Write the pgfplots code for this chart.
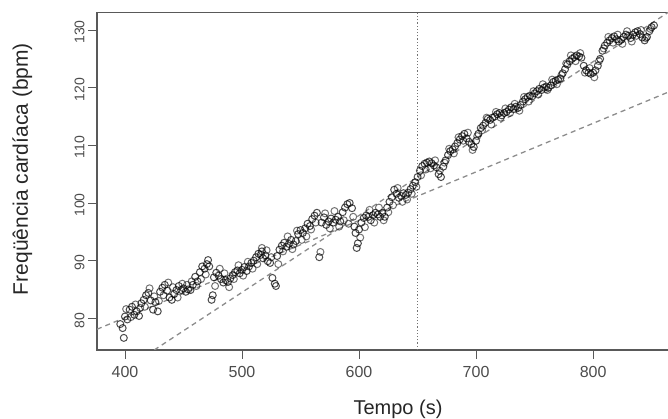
\documentclass[border=0pt]{standalone}
\usepackage{fontspec}
\setmainfont{Liberation Sans}
\usepackage{pgfplots}
\usepackage{pgfplotstable}
\pgfplotsset{compat=1.18}

\pgfplotstableread{
t v
396 79.0
398 78.3
399 76.6
400 80.3
402 79.8
404 81.5
406 82.0
408 80.6
410 81.2
412 80.4
414 82.6
416 83.2
418 84.0
420 84.4
422 83.1
424 81.5
426 82.8
428 81.2
430 84.6
432 85.3
434 85.8
436 84.8
438 83.6
440 83.2
442 84.2
444 84.9
446 85.6
448 84.9
450 85.2
452 84.6
454 85.0
456 84.9
458 85.8
460 87.2
462 86.4
464 88.0
466 89.0
468 88.6
470 89.4
471 90.1
472 89.0
474 83.2
475 84.0
476 87.1
478 87.9
480 87.4
482 86.8
484 86.2
486 86.6
488 86.3
490 86.9
492 87.5
494 88.0
496 88.3
498 87.8
500 88.4
502 88.9
504 88.2
506 89.0
508 89.6
510 90.0
512 90.6
514 91.2
516 91.0
517 91.6
518 90.4
520 90.9
522 89.9
524 89.6
526 87.0
528 86.0
529 85.6
530 90.8
532 91.9
534 92.6
536 93.1
538 92.4
540 92.9
542 93.6
544 92.8
546 93.4
548 94.6
550 95.3
552 94.8
554 95.6
556 96.4
558 96.0
560 97.2
562 97.8
564 98.3
566 90.6
568 96.6
570 97.5
572 96.2
574 96.8
576 97.3
578 96.6
580 97.1
582 97.6
584 96.8
586 98.4
588 99.2
590 99.8
592 100.0
594 99.1
596 95.9
597 94.8
598 92.2
599 93.0
600 95.4
602 96.6
604 97.4
606 97.8
608 97.6
610 97.0
612 97.9
614 98.3
616 98.0
618 97.6
620 98.3
622 97.6
624 99.2
626 100.2
628 101.0
630 102.3
632 101.6
634 100.9
636 101.2
638 101.7
640 101.4
642 101.8
644 102.4
646 103.0
648 103.6
650 104.5
652 105.6
654 106.4
656 106.8
658 107.0
660 107.2
662 106.9
664 106.5
666 106.2
668 105.0
670 104.5
672 106.3
674 107.4
676 108.3
678 109.0
680 109.3
682 109.8
684 110.4
686 111.0
688 111.6
690 112.0
692 111.2
694 110.6
696 110.2
698 109.7
700 110.8
702 112.0
704 113.0
706 113.4
708 113.9
710 114.6
712 114.4
714 114.8
716 115.0
718 115.4
720 115.6
722 115.2
724 115.6
726 115.8
728 116.2
730 116.6
732 116.3
734 116.7
736 116.5
738 117.0
740 117.6
742 118.0
744 118.4
746 118.6
748 118.5
750 119.0
752 119.4
754 119.8
756 119.6
758 120.0
760 120.2
762 120.0
764 120.4
766 121.0
768 121.2
770 121.4
772 121.6
774 122.5
776 123.2
778 124.0
780 124.6
782 125.0
784 125.3
786 125.6
788 125.4
790 125.2
792 123.8
794 123.0
796 122.6
798 122.4
800 122.6
802 123.0
804 123.8
806 125.0
808 126.4
810 127.3
812 127.8
814 128.2
816 128.6
818 128.9
820 128.4
822 128.0
824 128.3
826 128.8
828 129.2
830 129.0
832 128.6
834 129.2
836 129.6
838 129.8
840 129.3
842 128.7
844 128.2
846 128.8
848 129.8
850 130.5
852 130.8
}\fcmain

\pgfplotstableread{
t v
401 81.6
405 80.2
409 82.4
413 81.8
417 82.0
421 85.2
425 83.8
429 83.0
433 84.0
437 86.2
441 85.4
445 83.6
449 86.0
453 85.8
457 86.4
461 85.6
465 86.8
469 87.6
477 85.6
481 88.6
485 87.8
489 85.4
493 86.8
497 89.2
501 87.4
505 89.8
509 88.6
513 89.4
517 92.2
521 91.8
525 90.6
531 89.4
535 91.6
539 94.2
543 92.0
547 95.2
551 93.6
555 94.2
559 95.4
563 96.6
567 91.5
571 98.2
575 95.6
579 98.6
583 95.9
587 97.0
591 96.4
595 97.6
601 94.0
605 95.8
609 98.8
613 96.6
617 99.2
621 97.0
625 98.4
629 99.6
633 102.6
637 100.2
641 100.6
645 101.6
649 102.8
653 104.8
657 105.8
661 106.0
665 107.4
669 105.6
673 107.0
677 109.4
681 108.6
685 111.4
689 110.8
693 112.2
697 109.2
701 111.6
705 112.6
709 114.8
713 113.6
717 115.8
721 114.8
725 116.4
729 115.6
733 117.2
737 116.0
741 118.4
745 117.6
749 119.4
753 118.8
757 120.6
761 119.6
765 121.4
769 120.6
773 122.2
777 124.2
781 125.6
785 124.6
789 126.0
793 122.6
797 123.4
801 121.8
805 124.6
809 126.8
813 128.8
817 127.8
821 129.2
825 127.6
829 129.8
833 128.0
837 129.0
841 130.0
845 128.6
849 130.2
}\fcextra

\begin{document}
\begin{tikzpicture}[x=1pt,y=1pt]
\useasboundingbox (0,0) rectangle (668,419);
\clip (0,0) rectangle (668,419);
\begin{axis}[at={(97pt,69pt)}, anchor=south west, scale only axis,
    width=575pt, height=337.5pt,
    xmin=376.1, xmax=867.4, ymin=74.5, ymax=133.04,
    xtick={400,500,600,700,800}, ytick={80,90,100,110,120,130},
    tick align=outside, major tick length=9pt,
    tick style={black!65, line width=0.8pt},
    axis line style={black!65, line width=1.1pt},
    xtick pos=bottom, ytick pos=left,
    /pgf/number format/assume math mode=true,
    xticklabel style={font=\fontsize{16}{18}\selectfont, text=black!70, yshift=-4pt},
    yticklabel style={font=\fontsize{14}{16}\selectfont, text=black!70, rotate=90, anchor=south, xshift=-2pt},
    xlabel={Tempo (s)}, ylabel={Freqüência cardíaca (bpm)},
    xlabel style={font=\fontsize{20}{24}\selectfont, text=black!85,
        at={(axis description cs:0.5235,-0.176)}, anchor=center},
    ylabel style={font=\fontsize{21}{25}\selectfont, text=black!85,
        at={(axis description cs:-0.130,0.536)}, anchor=center},
]
\addplot[only marks, mark=o, mark size=3.5pt, black, line width=1.0pt,
    mark options={draw opacity=0.7}] table[x=t,y=v] {\fcmain};
\addplot[only marks, mark=o, mark size=3.5pt, black, line width=1.0pt,
    mark options={draw opacity=0.55}] table[x=t,y=v] {\fcextra};
\addplot[black!45, dashed, dash pattern=on 5pt off 4pt, line width=1.3pt]
    coordinates {(376.1,78.1) (867.4,119.5)};
\addplot[black!45, dashed, dash pattern=on 5pt off 4pt, line width=1.3pt]
    coordinates {(425,74.5) (867.4,133.5)};
\addplot[black!55, dotted, line width=1.2pt]
    coordinates {(650,74.5) (650,133.04)};
\end{axis}
\end{tikzpicture}
\end{document}
